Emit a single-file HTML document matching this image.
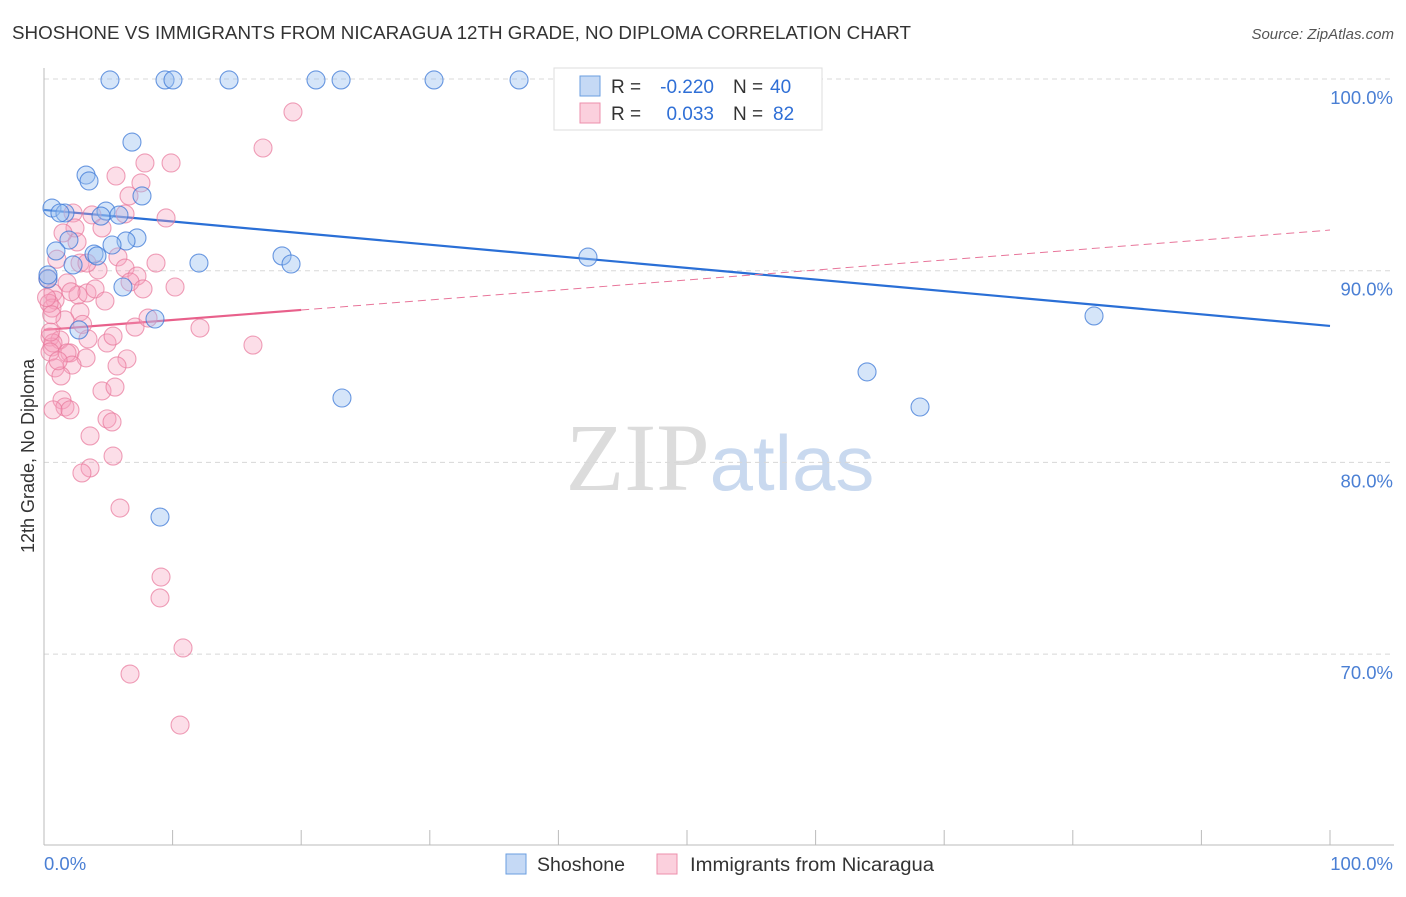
<!DOCTYPE html>
<html><head><meta charset="utf-8">
<style>
body{margin:0;background:#fff;font-family:"Liberation Sans",sans-serif;}
svg text{font-family:"Liberation Sans",sans-serif;}
</style></head>
<body>
<svg id="chart" width="1406" height="892" viewBox="0 0 1406 892" xmlns="http://www.w3.org/2000/svg">
<text x="12" y="39" font-size="18" fill="#333" textLength="899" lengthAdjust="spacingAndGlyphs">SHOSHONE VS IMMIGRANTS FROM NICARAGUA 12TH GRADE, NO DIPLOMA CORRELATION CHART</text>
<text x="1394" y="39" font-size="15" fill="#555" text-anchor="end" font-style="italic">Source: ZipAtlas.com</text>
<text x="720" y="490" font-size="96" text-anchor="middle"><tspan fill="#dcdcdc" font-family="Liberation Serif">ZIP</tspan><tspan fill="#c9d9ef" font-size="78">atlas</tspan></text>
<g id="grid"></g>
<g id="axes"></g>
<g id="trend"></g>
<g id="pts"></g>
<text transform="translate(34,456) rotate(-90)" font-size="18" fill="#333" text-anchor="middle">12th Grade, No Diploma</text>
<g>
<rect x="554" y="68" width="268" height="62" fill="#fff" stroke="#ddd"/>
<rect x="580" y="76" width="20" height="20" fill="#c5d9f5" stroke="#6a9ee0"/>
<rect x="580" y="103" width="20" height="20" fill="#fbd0dd" stroke="#ec8fac"/>
<text x="611" y="93" font-size="19" fill="#333">R =</text>
<text x="714" y="93" font-size="19" fill="#2f6fd6" text-anchor="end">-0.220</text>
<text x="733" y="93" font-size="19" fill="#333">N =</text>
<text x="770" y="93" font-size="19" fill="#2f6fd6">40</text>
<text x="611" y="120" font-size="19" fill="#333">R =</text>
<text x="714" y="120" font-size="19" fill="#2f6fd6" text-anchor="end">0.033</text>
<text x="733" y="120" font-size="19" fill="#333">N =</text>
<text x="773" y="120" font-size="19" fill="#2f6fd6">82</text>
</g>
<g>
<rect x="506" y="854" width="20" height="20" fill="#c5d9f5" stroke="#6a9ee0"/>
<text x="537" y="871" font-size="19" fill="#333" textLength="88" lengthAdjust="spacingAndGlyphs">Shoshone</text>
<rect x="657" y="854" width="20" height="20" fill="#fbd0dd" stroke="#ec8fac"/>
<text x="690" y="871" font-size="19" fill="#333" textLength="244" lengthAdjust="spacingAndGlyphs">Immigrants from Nicaragua</text>
</g>
</svg>
<script>
const yTicks=[100,90,80,70];
const yTickLabels=["100.0%","90.0%","80.0%","70.0%"];
const xTickLabels=["0.0%","100.0%"];
const blueX=[5.13,9.41,10.03,14.39,21.15,23.1,30.33,36.94,6.84,3.27,3.5,7.62,0.62,1.63,1.24,4.82,5.83,4.43,1.94,7.23,6.38,5.29,0.93,3.89,4.12,12.05,18.51,19.21,42.3,2.26,0.31,6.14,8.63,2.72,81.65,64.0,68.12,23.17,9.02,0.31];
const blueY=[99.95,99.95,99.95,99.95,99.95,99.95,99.95,99.95,96.71,94.99,94.68,93.9,93.27,93.01,93.01,93.11,92.9,92.85,91.6,91.71,91.55,91.34,91.03,90.87,90.77,90.4,90.77,90.35,90.71,90.3,89.57,89.15,87.48,86.91,87.64,84.72,82.89,83.36,77.15,89.78];
const pinkX=[19.36,17.03,7.85,9.88,5.6,7.54,6.61,9.49,2.26,3.73,6.3,4.51,2.41,2.57,1.48,5.75,2.8,4.2,3.34,8.71,6.3,7.23,6.69,7.7,10.19,1.79,0.7,2.64,3.34,3.97,4.74,0.86,0.62,2.8,1.63,7.08,8.09,12.13,16.25,3.42,4.9,5.37,0.47,1.24,0.62,2.02,0.7,0.47,1.79,3.27,2.18,0.86,1.32,6.45,5.68,4.51,5.52,1.4,1.63,2.02,0.7,4.9,5.29,3.58,5.37,3.58,2.95,5.91,9.1,9.02,10.81,6.69,10.58,0.3,0.4,1.0,2.1,3.0,0.5,1.1,0.2,0.6];
const pinkY=[98.28,96.4,95.62,95.62,94.94,94.58,93.9,92.75,93.01,92.91,92.96,92.23,92.23,91.5,91.97,90.72,90.4,90.04,90.4,90.4,90.14,89.72,89.41,89.05,89.15,89.36,88.84,88.73,88.84,89.05,88.42,88.47,88.05,87.85,87.43,87.06,87.53,87.01,86.12,86.44,86.23,86.59,86.54,86.39,86.02,85.71,86.23,85.76,85.71,85.45,85.08,84.93,84.51,85.4,85.03,83.73,83.93,83.26,82.89,82.74,82.74,82.27,82.11,81.38,80.33,79.71,79.45,77.62,74.02,72.93,70.32,68.96,66.3,89.6,88.3,90.6,88.9,87.2,86.8,85.3,88.6,87.7];
const blueTrend=[93.17,87.12];
const pinkTrend=[86.91,92.12];
const pinkSolidEnd=20;

const NS="http://www.w3.org/2000/svg";
const X0=44,X1=1330,Y100=79,PX10=19.17;
const sx=v=>X0+(X1-X0)*v/100;
const sy=v=>Y100+(100-v)*PX10;
function mk(tag,attrs,parent){const e=document.createElementNS(NS,tag);for(const k in attrs)e.setAttribute(k,attrs[k]);parent.appendChild(e);return e;}
const grid=document.getElementById('grid'),axes=document.getElementById('axes'),trend=document.getElementById('trend'),pts=document.getElementById('pts');
yTicks.forEach((t,i)=>{
  const l=mk('line',{x1:X0,x2:1394,y1:sy(t),y2:sy(t),stroke:'#d8d8d8','stroke-dasharray':'5,4'},grid);
  
  
  const tx=mk('text',{x:1393,y:sy(t)+25,'font-size':18.5,fill:'#4a7fd4','text-anchor':'end'},axes);
  tx.textContent=yTickLabels[i];
  
  
});
const ax=mk('line',{x1:X0,x2:1394,y1:845,y2:845,stroke:'#bbb'},axes);


const ay=mk('line',{x1:X0,x2:X0,y1:68,y2:845,stroke:'#bbb'},axes);


for(let i=0;i<=10;i++){
  const t=mk('line',{x1:sx(i*10),x2:sx(i*10),y1:830,y2:845,stroke:'#bbb'},axes);
  
  
}
[[0,'start',X0],[1,'end',1393]].forEach(([i,a,x])=>{
  const tx=mk('text',{x:x,y:870,'font-size':18.5,fill:'#4a7fd4','text-anchor':a},axes);
  tx.textContent=xTickLabels[i];
  
  
});
pinkX.forEach((v,i)=>{
  const c=mk('circle',{cx:sx(v),cy:sy(pinkY[i]),r:9,fill:'rgba(246,160,188,0.35)',stroke:'rgba(232,120,155,0.7)','stroke-width':1.1},pts);
  
  
});
blueX.forEach((v,i)=>{
  const c=mk('circle',{cx:sx(v),cy:sy(blueY[i]),r:9,fill:'rgba(150,190,240,0.4)',stroke:'rgba(60,120,215,0.75)','stroke-width':1.1},pts);
  
  
});
const bl=mk('line',{x1:sx(0),y1:sy(blueTrend[0]),x2:sx(100),y2:sy(blueTrend[1]),stroke:'#2a6fd6','stroke-width':2.2},trend);


const pEnd=pinkTrend[0]+(pinkTrend[1]-pinkTrend[0])*pinkSolidEnd/100;
const pd=mk('line',{x1:sx(pinkSolidEnd),y1:sy(pEnd),x2:sx(100),y2:sy(pinkTrend[1]),stroke:'#e8759a','stroke-width':1,'stroke-dasharray':'8,5'},trend);


const ps=mk('line',{x1:sx(0),y1:sy(pinkTrend[0]),x2:sx(pinkSolidEnd),y2:sy(pEnd),stroke:'#e8608b','stroke-width':2.2},trend);


</script>
</body></html>
